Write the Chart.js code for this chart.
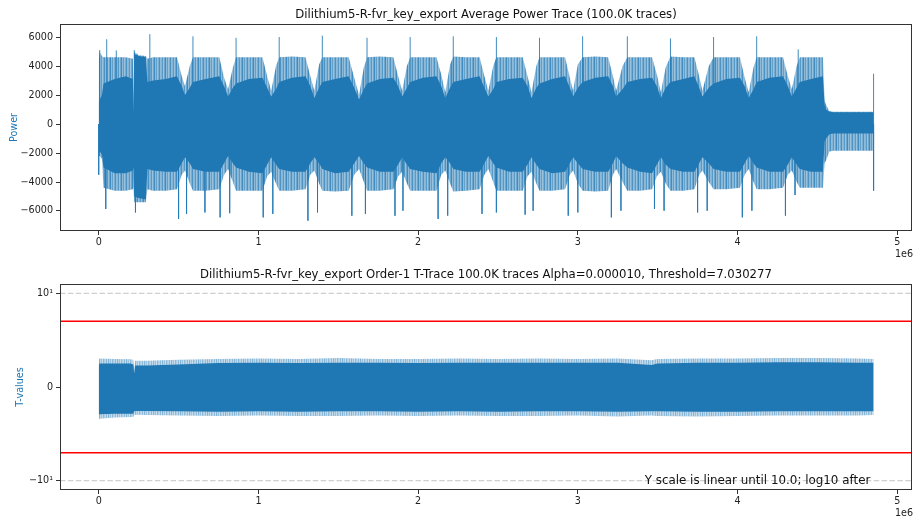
<!DOCTYPE html>
<html>
<head>
<meta charset="utf-8">
<script src="https://cdn.jsdelivr.net/npm/chart.js@4.4.1/dist/chart.umd.min.js"></script>
<style>
  html, body { margin: 0; padding: 0; background: #fff; }
  #wrap { position: relative; width: 913px; height: 519px; }
  canvas { position: absolute; left: 0; }
  #power { top: 0; }
  #tvals { top: 260px; }
</style>
</head>
<body>
<div id="wrap">
  <canvas id="power" width="913" height="260"></canvas>
  <canvas id="tvals" width="913" height="259"></canvas>
</div>
<script>
// positions en millions d'échantillons (axe x en 1e6)
const powX = [0, 0.006, 0.02, 0.03, 0.10, 0.17, 0.214, 0.2175, 0.222, 0.25, 0.295, 0.305, 0.34, 0.42, 0.49, 0.52,
  0.54, 0.57, 0.59, 0.67, 0.755, 0.785,
  0.81, 0.84, 0.86, 0.94, 1.025, 1.055,
  1.08, 1.11, 1.13, 1.21, 1.295, 1.325,
  1.35, 1.38, 1.40, 1.48, 1.565, 1.60,
  1.63, 1.66, 1.68, 1.76, 1.845, 1.875,
  1.90, 1.93, 1.95, 2.03, 2.115, 2.145,
  2.17, 2.20, 2.22, 2.30, 2.385, 2.415,
  2.44, 2.47, 2.49, 2.57, 2.655, 2.685,
  2.71, 2.74, 2.76, 2.84, 2.92, 2.95,
  2.97, 3.00, 3.03, 3.11, 3.19, 3.22,
  3.24, 3.28, 3.31, 3.39, 3.465, 3.495,
  3.52, 3.55, 3.58, 3.66, 3.73, 3.76,
  3.78, 3.82, 3.85, 3.93, 4.015, 4.045,
  4.07, 4.10, 4.12, 4.20, 4.285, 4.315,
  4.34, 4.37, 4.39, 4.46, 4.535, 4.545,
  4.555, 4.575, 4.60, 4.70, 4.80, 4.848, 4.852];

// enveloppe claire (traits fins) et coeur foncé de la trace de puissance
const powOuterHi = [4400, 5000, 4700, 4600, 4600, 4600, 4500, 900, 5000, 4750, 4700, 4500, 4600, 4600, 4600, 3300,
  2600, 4000, 4600, 4600, 4600, 3200,
  2400, 3900, 4600, 4600, 4600, 3300,
  2300, 4000, 4600, 4650, 4600, 3300,
  2300, 4100, 4600, 4600, 4600, 3200,
  2000, 3900, 4600, 4650, 4600, 3300,
  2300, 4000, 4600, 4600, 4600, 3400,
  2200, 4100, 4650, 4600, 4600, 3300,
  2300, 4000, 4600, 4600, 4600, 3300,
  2200, 4000, 4600, 4600, 4600, 3200,
  2300, 4100, 4600, 4650, 4600, 3300,
  2300, 4000, 4600, 4600, 4600, 3400,
  2200, 3900, 4650, 4600, 4600, 3300,
  2300, 4000, 4600, 4600, 4600, 3200,
  2200, 3900, 4600, 4600, 4600, 3300,
  2400, 4000, 4600, 4600, 4600, 1600,
  1300, 900, 850, 850, 850, 850, 850];
const powCoreHi = [1500, 1700, 2000, 2800, 3100, 3300, 3100, 700, 4850, 4700, 4600, 2900, 3000, 3100, 3300, 2600,
  2000, 2500, 2900, 3100, 3300, 2600,
  1900, 2500, 2800, 3100, 3200, 2500,
  1900, 2400, 2900, 3200, 3300, 2600,
  1800, 2500, 2900, 3100, 3300, 2500,
  1700, 2400, 2800, 3100, 3200, 2600,
  1900, 2500, 2900, 3200, 3300, 2600,
  1800, 2500, 2900, 3100, 3300, 2500,
  1900, 2400, 2900, 3100, 3200, 2600,
  1800, 2500, 2800, 3100, 3300, 2500,
  1900, 2500, 2900, 3200, 3300, 2600,
  1900, 2400, 2900, 3100, 3200, 2600,
  1800, 2500, 2900, 3100, 3300, 2500,
  1900, 2500, 2800, 3100, 3200, 2600,
  1800, 2400, 2900, 3200, 3300, 2600,
  1900, 2500, 2900, 3100, 3300, 1300,
  1000, 850, 820, 820, 820, 820, 820];
const powCoreLo = [-1800, -1900, -2100, -3000, -3400, -3400, -3200, -3000, -5000, -5100, -5200, -3100, -3200, -3300, -3300, -2700,
  -2300, -2700, -3100, -3300, -3300, -2700,
  -2200, -2700, -3000, -3300, -3400, -2800,
  -2300, -2800, -3100, -3300, -3300, -2700,
  -2300, -2700, -3100, -3400, -3300, -2700,
  -2200, -2700, -3000, -3300, -3300, -2800,
  -2300, -2800, -3100, -3300, -3400, -2700,
  -2300, -2700, -3100, -3300, -3300, -2700,
  -2200, -2700, -3000, -3300, -3300, -2800,
  -2300, -2800, -3100, -3400, -3300, -2700,
  -2300, -2700, -3100, -3300, -3300, -2700,
  -2200, -2700, -3000, -3300, -3400, -2800,
  -2300, -2800, -3100, -3300, -3300, -2700,
  -2300, -2700, -3100, -3300, -3300, -2700,
  -2200, -2700, -3000, -3300, -3300, -2800,
  -2300, -2800, -3100, -3300, -3300, -1200,
  -1000, -700, -650, -650, -650, -650, -650];
const powOuterLo = [-2200, -2200, -2400, -4400, -4600, -4600, -4500, -4400, -5400, -5400, -5400, -4500, -4600, -4600, -4500, -3500,
  -3200, -4100, -4600, -4600, -4500, -3500,
  -3100, -4000, -4600, -4600, -4600, -3600,
  -3300, -4100, -4600, -4600, -4500, -3500,
  -3200, -4100, -4600, -4650, -4600, -3500,
  -3100, -4000, -4600, -4600, -4500, -3600,
  -3300, -4100, -4600, -4600, -4600, -3500,
  -3200, -4100, -4650, -4600, -4500, -3500,
  -3100, -4000, -4600, -4600, -4600, -3600,
  -3300, -4100, -4600, -4600, -4500, -3500,
  -3200, -4100, -4600, -4650, -4600, -3500,
  -3100, -4000, -4600, -4600, -4500, -3600,
  -3300, -4100, -4600, -4600, -4500, -3500,
  -3200, -4000, -4500, -4500, -4400, -3500,
  -3100, -4000, -4500, -4500, -4400, -3500,
  -3200, -4000, -4400, -4400, -4400, -2700,
  -2500, -1900, -1850, -1850, -1850, -1850, -1850];

// pics isolés
const upSpikeX = [0.006, 0.05, 0.11, 0.2225, 0.32, 0.59, 0.86, 1.13, 1.40, 1.68, 1.95, 2.22, 2.49, 2.76, 3.03, 3.31, 3.58, 3.85, 4.12, 4.38, 4.852];
const upSpikeY = [5100, 5850, 5080, 5100, 6200, 6050, 5950, 6000, 6100, 5950, 6000, 6050, 6000, 5950, 6050, 6050, 5900, 6000, 6050, 5150, 3470];
const downSpikeX = [0.0, 0.044, 0.23, 0.50, 0.55, 0.665, 0.76, 0.82, 1.03, 1.09, 1.31, 1.37, 1.585, 1.67, 1.855, 1.905,
  2.125, 2.185, 2.40, 2.49, 2.67, 2.72, 2.94, 3.0, 3.21, 3.27, 3.48, 3.54, 3.75, 3.81, 4.03, 4.09, 4.30, 4.36, 4.852];
const downSpikeY = [-3500, -5860, -6100, -6550, -6200, -6100, -6440, -6150, -6440, -6200, -6670, -6100, -6330, -6200, -6330, -5980,
  -6550, -6320, -6200, -6100, -6250, -5980, -6320, -6100, -6440, -5980, -5860, -5980, -6100, -5980, -6440, -5980, -6320, -4900, -4600];

// t-test
const tX = [0, 0.004, 0.1, 0.2, 0.216, 0.222, 0.228, 0.3, 0.5, 0.75, 1.0, 1.25, 1.5, 1.75, 2.0, 2.25, 2.5, 2.75, 3.0, 3.25, 3.46, 3.5, 3.75, 4.0, 4.25, 4.5, 4.75, 4.852];
const tCoreHi = [2.2, 2.5, 2.5, 2.5, 2.4, 1.45, 2.3, 2.3, 2.4, 2.55, 2.6, 2.55, 2.6, 2.6, 2.55, 2.6, 2.6, 2.6, 2.6, 2.6, 2.35, 2.5, 2.6, 2.6, 2.65, 2.65, 2.6, 2.6];
const tOuterHi = [2.9, 3.05, 3.0, 2.95, 2.9, 2.0, 2.8, 2.8, 2.9, 3.0, 3.05, 3.0, 3.1, 3.0, 3.0, 3.05, 3.0, 3.05, 3.0, 3.05, 2.85, 3.0, 3.05, 3.05, 3.1, 3.1, 3.05, 3.0];
const tCoreLo = [-3.0, -2.9, -2.85, -2.85, -2.85, -2.6, -2.55, -2.55, -2.6, -2.65, -2.6, -2.65, -2.6, -2.6, -2.65, -2.6, -2.65, -2.6, -2.6, -2.65, -2.6, -2.6, -2.65, -2.65, -2.6, -2.6, -2.6, -2.6];
const tOuterLo = [-3.6, -3.4, -3.25, -3.2, -3.2, -3.0, -2.95, -3.0, -3.05, -3.1, -3.05, -3.1, -3.1, -3.05, -3.1, -3.05, -3.1, -3.1, -3.05, -3.15, -3.05, -3.1, -3.15, -3.1, -3.05, -3.05, -3.05, -3.0];
const thresholds = [7.030277, -7.030277];
const limitLines = [10, -10];

// ticks
const xTicks = [0, 1, 2, 3, 4, 5];
const powerTicks = [-6000, -4000, -2000, 0, 2000, 4000, 6000];
const tTicks = [-10, 0, 10];
const tTickLabels = ['\u221210\u00b9', '0', '10\u00b9'];

const BLUE = '#1f77b4';
const M = 1e6;
const X_MIN = -0.2425 * M, X_MAX = 5.0925 * M;
const SYMLOG_LIN = 10;

Chart.defaults.font.family = '"DejaVu Sans", sans-serif';

// échelle symlog (linéaire jusqu'à 10, log10 après)
class SymLogScale extends Chart.LinearScale {
  static id = 'symlog';
  static defaults = Chart.LinearScale.defaults;
  fwd(v) {
    const c = SYMLOG_LIN, k = 1 / (1 - 1 / 10), a = Math.abs(v);
    return a <= c ? v * k : Math.sign(v) * c * (k + Math.log10(a / c));
  }
  inv(t) {
    const c = SYMLOG_LIN, k = 1 / (1 - 1 / 10), a = Math.abs(t);
    return a <= c * k ? t / k : Math.sign(t) * c * Math.pow(10, a / c - k);
  }
  getPixelForValue(v) {
    if (v === null || isNaN(v)) return NaN;
    const a = this.fwd(this.min), b = this.fwd(this.max);
    return this.getPixelForDecimal((this.fwd(v) - a) / (b - a));
  }
  getValueForPixel(p) {
    const a = this.fwd(this.min), b = this.fwd(this.max);
    return this.inv(a + this.getDecimalForPixel(p) * (b - a));
  }
}
Chart.register(SymLogScale);

// motif de traits verticaux pour imiter les tracés très denses
function stripes(canvasId, alphas) {
  const tile = document.createElement('canvas');
  tile.width = alphas.length;
  tile.height = 1;
  const g = tile.getContext('2d');
  alphas.forEach((a, i) => { g.fillStyle = 'rgba(31,119,180,' + a + ')'; g.fillRect(i, 0, 1, 1); });
  return document.getElementById(canvasId).getContext('2d').createPattern(tile, 'repeat');
}

function pts(xs, ys) {
  return xs.map((x, i) => ({ x: x * M, y: ys[i] }));
}
function spikes(xs, ys) {
  const out = [];
  xs.forEach((x, i) => { out.push({ x: x * M, y: 0 }, { x: x * M, y: ys[i] }, { x: x * M, y: null }); });
  return out;
}
function band(data, color, fill) {
  return { data, fill, backgroundColor: color, borderColor: color, borderWidth: 0, pointRadius: 0, tension: 0 };
}
function hline(v, color, width, dash) {
  return { data: [{ x: X_MIN, y: v }, { x: X_MAX, y: v }], borderColor: color, borderWidth: width, borderDash: dash, pointRadius: 0, fill: false };
}
function minus(v) {
  return v < 0 ? '\u2212' + Math.abs(v) : String(v);
}

const gridOpts = { drawOnChartArea: false, drawTicks: true, tickLength: 4, color: '#333', lineWidth: 1 };
const tickFont = { size: 9.6 };

function xScale() {
  return {
    type: 'linear', min: X_MIN, max: X_MAX,
    afterBuildTicks: s => { s.ticks = xTicks.map(v => ({ value: v * M })); },
    afterFit: s => { s.height = 29; },
    ticks: { callback: v => String(Math.round(v / M)), color: '#222', font: tickFont, padding: 2, maxRotation: 0, autoSkip: false },
    grid: gridOpts,
    border: { display: false }
  };
}

// cadre, titre, label y, "1e6" et note
function decor(title, ylabel, ylabelX, note) {
  return {
    id: 'decor',
    afterDraw(chart) {
      const { ctx, chartArea: a } = chart;
      ctx.save();
      ctx.strokeStyle = '#333';
      ctx.lineWidth = 1;
      ctx.strokeRect(a.left + 0.5, a.top + 0.5, a.right - a.left - 1, a.bottom - a.top - 1);
      ctx.fillStyle = '#111';
      ctx.textAlign = 'center';
      ctx.textBaseline = 'middle';
      ctx.font = '11.7px "DejaVu Sans"';
      ctx.fillText(title, (a.left + a.right) / 2, a.top - 9);
      ctx.font = '9.6px "DejaVu Sans"';
      ctx.textAlign = 'right';
      ctx.fillStyle = '#222';
      ctx.fillText('1e6', a.right + 1, a.bottom + 23);
      ctx.save();
      ctx.translate(ylabelX, (a.top + a.bottom) / 2);
      ctx.rotate(-Math.PI / 2);
      ctx.textAlign = 'center';
      ctx.fillStyle = BLUE;
      ctx.fillText(ylabel, 0, 0);
      ctx.restore();
      if (note) {
        ctx.font = '11.9px "DejaVu Sans"';
        ctx.textAlign = 'center';
        ctx.fillStyle = '#111';
        ctx.fillText(note.text, chart.scales.x.getPixelForValue(note.x * M), chart.scales.y.getPixelForValue(note.y));
      }
      ctx.restore();
    }
  };
}

const baseOpts = {
  responsive: false,
  animation: false,
  events: [],
  layout: { padding: { top: 24, right: 1, left: 0, bottom: 0 } },
  plugins: { legend: { display: false }, tooltip: { enabled: false } }
};

const powStripes = stripes('power', [0.85, 0.5, 0.7, 0.45, 0.6, 0.8, 0.5, 0.55, 0.75, 0.45, 0.65]);
const tStripes = stripes('tvals', [0.55, 0.3, 0.45, 0.25, 0.5, 0.35, 0.3, 0.5, 0.25]);

new Chart(document.getElementById('power'), {
  type: 'line',
  data: {
    datasets: [
      band(pts(powX, powOuterHi), powStripes, '+1'),
      band(pts(powX, powOuterLo), powStripes, false),
      band(pts(powX, powCoreHi), BLUE, '+1'),
      band(pts(powX, powCoreLo), BLUE, false),
      { data: spikes(upSpikeX, upSpikeY), borderColor: 'rgba(31,119,180,0.85)', borderWidth: 1, pointRadius: 0, fill: false, spanGaps: false },
      { data: spikes(downSpikeX, downSpikeY), borderColor: 'rgba(31,119,180,0.75)', borderWidth: 1, pointRadius: 0, fill: false, spanGaps: false }
    ]
  },
  options: {
    ...baseOpts,
    scales: {
      x: xScale(),
      y: {
        type: 'linear', min: -7380, max: 6900,
        afterBuildTicks: s => { s.ticks = powerTicks.map(v => ({ value: v })); },
        afterFit: s => { s.width = 60; },
        ticks: { callback: v => minus(v), color: '#222', font: tickFont, padding: 3 },
        grid: gridOpts,
        border: { display: false }
      }
    }
  },
  plugins: [decor('Dilithium5-R-fvr_key_export Average Power Trace (100.0K traces)', 'Power', 14)]
});

new Chart(document.getElementById('tvals'), {
  type: 'line',
  data: {
    datasets: [
      hline(limitLines[0], 'rgba(150,150,150,0.45)', 1.2, [5.5, 2.4]),
      hline(limitLines[1], 'rgba(150,150,150,0.45)', 1.2, [5.5, 2.4]),
      band(pts(tX, tOuterHi), tStripes, '+1'),
      band(pts(tX, tOuterLo), tStripes, false),
      band(pts(tX, tCoreHi), BLUE, '+1'),
      band(pts(tX, tCoreLo), BLUE, false),
      hline(thresholds[0], '#ff0000', 1.5, []),
      hline(thresholds[1], '#ff0000', 1.5, [])
    ]
  },
  options: {
    ...baseOpts,
    scales: {
      x: xScale(),
      y: {
        type: 'symlog', min: -12.9, max: 12.9,
        afterBuildTicks: s => { s.ticks = tTicks.map(v => ({ value: v })); },
        afterFit: s => { s.width = 60; },
        ticks: { callback: (v, i) => tTickLabels[i], color: '#222', font: tickFont, padding: 3 },
        grid: gridOpts,
        border: { display: false }
      }
    }
  },
  plugins: [decor('Dilithium5-R-fvr_key_export Order-1 T-Trace 100.0K traces Alpha=0.000010, Threshold=7.030277', 'T-values', 20,
    { text: 'Y scale is linear until 10.0; log10 after', x: 4.125, y: -10 })]
});
</script>
</body>
</html>
